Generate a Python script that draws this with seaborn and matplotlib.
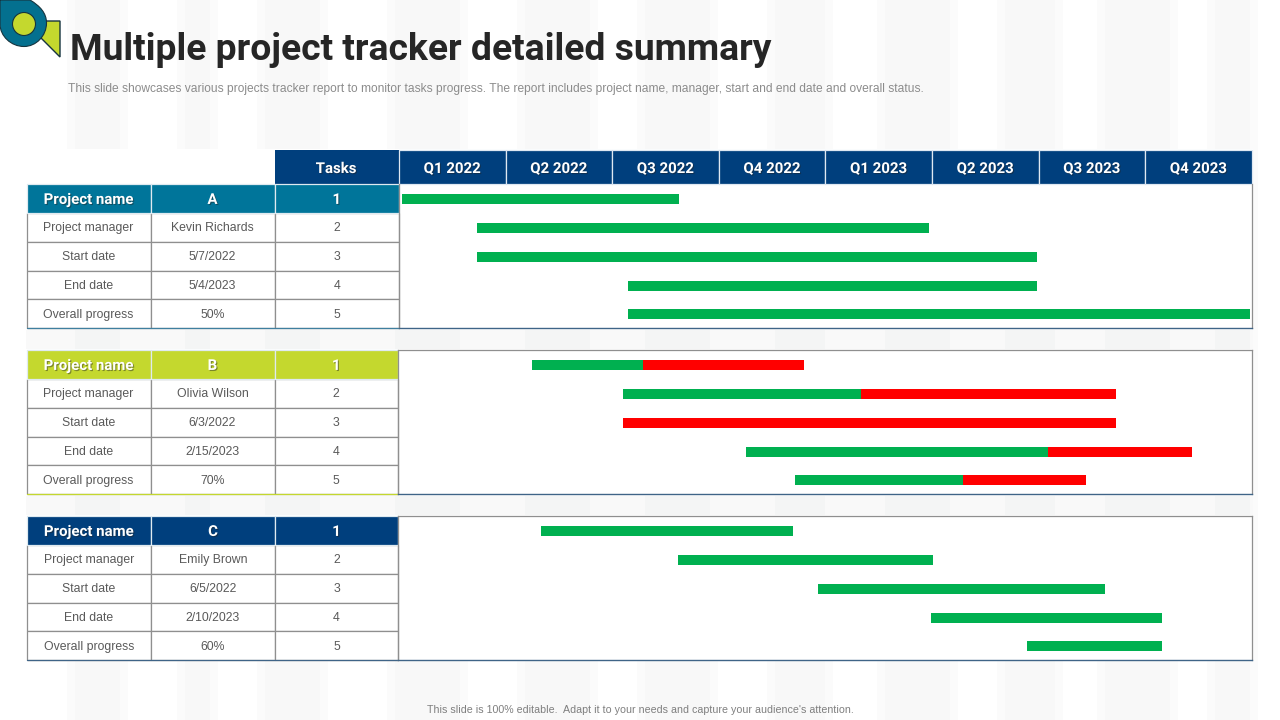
import matplotlib
matplotlib.use("Agg")
import matplotlib.pyplot as plt
import matplotlib.patheffects as pe
from matplotlib.patches import Rectangle, Polygon, Circle, PathPatch
from matplotlib.path import Path
import pandas as pd
import seaborn as sns

sns.set_theme(style="white")
plt.rcParams["font.family"] = ["Liberation Sans", "DejaVu Sans"]

# ---------- data ----------
title = "Multiple project tracker detailed summary"
subtitle = ("This slide showcases various projects tracker report to monitor tasks progress. "
            "The report includes project name, manager, start and end date and overall status.")
footer = "This slide is 100% editable.  Adapt it to your needs and capture your audience's attention."
quarters = ["Q1 2022", "Q2 2022", "Q3 2022", "Q4 2022", "Q1 2023", "Q2 2023", "Q3 2023", "Q4 2023"]
tasks = ["1", "2", "3", "4", "5"]
row_labels = ["Project manager", "Start date", "End date", "Overall progress"]

names = ["A", "B", "C"]
managers = ["Kevin Richards", "Olivia Wilson", "Emily Brown"]
start_dates = ["5/7/2022", "6/3/2022", "6/5/2022"]
end_dates = ["5/4/2023", "2/15/2023", "2/10/2023"]
progress = ["50%", "70%", "60%"]

# bar values are in quarters elapsed since the start of Q1 2022
a_start = [0.02, 0.73, 0.73, 2.14, 2.14]
a_green_end = [2.62, 4.97, 5.98, 5.98, 7.98]
a_red_end = [2.62, 4.97, 5.98, 5.98, 7.98]

b_start = [1.24, 2.10, 2.10, 3.25, 3.71]
b_green_end = [2.28, 4.33, 2.10, 6.08, 5.29]
b_red_end = [3.79, 6.72, 6.72, 7.43, 6.44]

c_start = [1.33, 2.61, 3.93, 4.99, 5.89]
c_green_end = [3.69, 5.00, 6.62, 7.15, 7.15]
c_red_end = [3.69, 5.00, 6.62, 7.15, 7.15]

# ---------- style ----------
NAVY, TEAL, LIME = "#003f7d", "#00759a", "#c4d82e"
GREEN, RED = "#00b050", "#ff0000"
GRID = "#8f8f8f"
BODY = "#595959"
HEAD_FONT = "Roboto"
W, H = 1280, 720
shadow = [pe.withSimplePatchShadow(offset=(0.8, -0.8), shadow_rgbFace="#222222", alpha=0.45)]

fig = plt.figure(figsize=(12.8, 7.2), dpi=100, facecolor="white")
page = fig.add_axes([0, 0, 1, 1])
page.set_xlim(0, W)
page.set_ylim(H, 0)
page.axis("off")

# faint vertical background streaks (two soft layers)
streaks = [(75, 120), (185, 210), (265, 320), (395, 460), (525, 590), (645, 710), (775, 825),
           (885, 950), (1005, 1055), (1105, 1170), (1215, 1250)]
for x0, x1 in streaks:
    page.add_patch(Rectangle((x0 - 8, 0), x1 - x0 + 16, H, fc="#fbfbfb", ec="none", zorder=0))
    page.add_patch(Rectangle((x0, 0), x1 - x0, H, fc="#f8f8f8", ec="none", zorder=0.1))
page.add_patch(Rectangle((26, 149), 1227, 512, fc="white", ec="none", zorder=0.5))
for y0, y1 in [(330, 349), (496, 515)]:
    page.add_patch(Rectangle((26, y0), 1227, y1 - y0, fc="#f9f9f9", ec="none", zorder=0.55))
    for x0, x1 in streaks:
        page.add_patch(Rectangle((x0, y0), x1 - x0, y1 - y0, fc="#f4f5f5", ec="none", zorder=0.6))

# logo
page.add_patch(Polygon([(40, 21), (60, 21), (60, 57), (40, 37)], fc=LIME, ec="#16343f", lw=1, zorder=3))
blob = Path([(0, 0), (30, 0), (40, 6), (46.5, 13), (46.5, 23), (46.5, 36), (36, 46.5), (24, 46.5),
             (11, 46.5), (0, 36), (0, 24), (0, 0)],
            [Path.MOVETO, Path.LINETO, Path.CURVE4, Path.CURVE4, Path.CURVE4, Path.CURVE4, Path.CURVE4, Path.CURVE4,
             Path.CURVE4, Path.CURVE4, Path.CURVE4, Path.LINETO])
page.add_patch(PathPatch(blob, fc="#04708f", ec="#16343f", lw=0.8, zorder=4))
page.add_patch(Circle((24, 24), 11.5, fc=LIME, ec="#16343f", lw=0.8, zorder=5))

# titles
page.text(70, 50.5, title, fontsize=26.85, fontweight="bold", family=HEAD_FONT, color="#262626",
          va="center", ha="left", zorder=6)
page.text(68, 89, subtitle, fontsize=8.63, color="#8c8c8c", va="center", ha="left", zorder=6)
page.text(640, 710, footer, fontsize=7.7, color="#7f7f7f", va="center", ha="center", zorder=6)

# quarter header row
tasks_x = (274.5, 399)
q_edges = [399 + 106.6 * i for i in range(9)]
page.add_patch(Rectangle((tasks_x[0], 150), tasks_x[1] - tasks_x[0], 34, fc=NAVY, ec="none", zorder=2))
page.text(336, 169, "Tasks", color="white", fontsize=10.8, fontweight="bold", family=HEAD_FONT,
          ha="center", va="center", zorder=6, path_effects=shadow)
for i, q in enumerate(quarters):
    page.add_patch(Rectangle((q_edges[i], 150), 106.6, 34, fc=NAVY, ec="#dfe8f2", lw=0.9, zorder=2))
    page.text(q_edges[i] + 53.3, 169, q, color="white", fontsize=10.8, fontweight="bold", family=HEAD_FONT,
              ha="center", va="center", zorder=6, path_effects=shadow)


def panel(idx, top, head_color, starts, green_ends, red_ends, bottom_left, col_x):
    rows = [top + 28.85 * i for i in range(6)]
    texts = [["Project name", names[idx], tasks[0]],
             [row_labels[0], managers[idx], tasks[1]],
             [row_labels[1], start_dates[idx], tasks[2]],
             [row_labels[2], end_dates[idx], tasks[3]],
             [row_labels[3], progress[idx], tasks[4]]]
    for r, row in enumerate(texts):
        for c, label in enumerate(row):
            x0, x1 = col_x[c], col_x[c + 1]
            if r == 0:
                page.add_patch(Rectangle((x0, rows[0]), x1 - x0, rows[1] - rows[0], fc=head_color,
                                         ec="#dfeaf0", lw=0.9, zorder=2))
                page.text((x0 + x1) / 2, (rows[0] + rows[1]) / 2 + 1.5, label, color="white", fontsize=10.8,
                          fontweight="bold", family=HEAD_FONT, ha="center", va="center", zorder=6,
                          path_effects=shadow)
            else:
                page.add_patch(Rectangle((x0, rows[r]), x1 - x0, rows[r + 1] - rows[r], fc="white",
                                         ec=GRID, lw=0.9, zorder=1.5))
                page.text((x0 + x1) / 2, (rows[r] + rows[r + 1]) / 2 + 1, label, color=BODY, fontsize=8.8,
                          ha="center", va="center", zorder=6)
    page.plot([col_x[0], col_x[-1]], [rows[5], rows[5]], color=bottom_left, lw=0.9, zorder=3)

    # Gantt chart of the panel
    ax = fig.add_axes([col_x[-1] / W, 1 - rows[5] / H, (1252 - col_x[-1]) / W, (rows[5] - rows[0]) / H],
                      facecolor="none")
    frame = pd.DataFrame({"task": tasks,
                          "green": [g - s for g, s in zip(green_ends, starts)],
                          "red": [e - g for e, g in zip(red_ends, green_ends)]})
    sns.barplot(data=frame, x="green", y="task", order=tasks, orient="h", color=GREEN, saturation=1,
                width=0.35, left=starts, ax=ax, linewidth=0)
    sns.barplot(data=frame, x="red", y="task", order=tasks, orient="h", color=RED, saturation=1,
                width=0.35, left=green_ends, ax=ax, linewidth=0)
    ax.set_xlim((col_x[-1] - 399.5) / 106.6, (1252 - 399.5) / 106.6)
    ax.set_ylim(4.48, -0.52)
    ax.set(xlabel="", ylabel="", xticks=[], yticks=[])
    for side in ["left", "right", "top"]:
        ax.spines[side].set_color(GRID)
        ax.spines[side].set_linewidth(0.9)
    ax.spines["top"].set_visible(idx != 0)
    ax.spines["bottom"].set_color("#3f6487")
    ax.spines["bottom"].set_linewidth(1.0)


panel(0, 184, TEAL, a_start, a_green_end, a_red_end, "#3f7f9f", [26.5, 150.5, 274.5, 399])
panel(1, 350, LIME, b_start, b_green_end, b_red_end, LIME, [26.5, 150.5, 274.5, 398])
panel(2, 516, NAVY, c_start, c_green_end, c_red_end, "#3f6487", [26.5, 151, 275, 398])

fig.savefig("out.png", dpi=100)
